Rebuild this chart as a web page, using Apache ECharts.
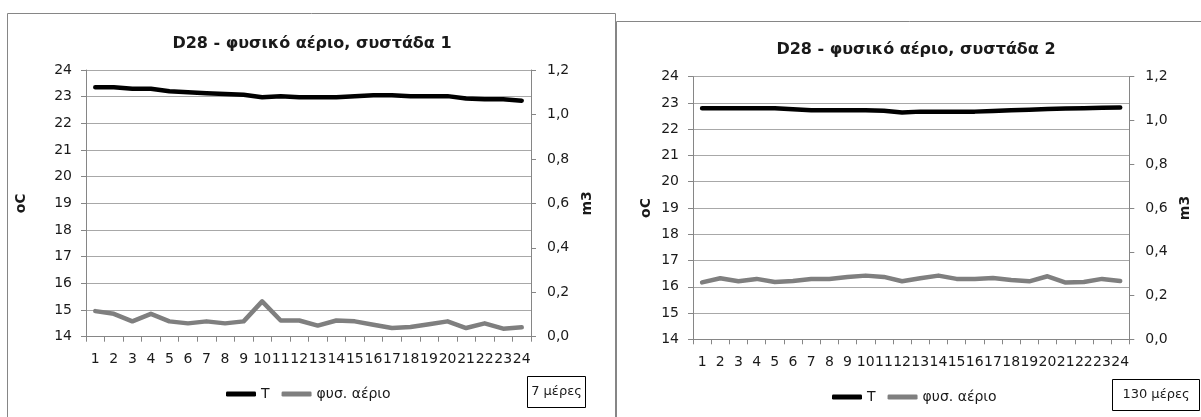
<!DOCTYPE html>
<html>
<head>
<meta charset="utf-8">
<script src="https://cdn.jsdelivr.net/npm/echarts@6/dist/echarts.min.js"></script>
<style>
html,body{margin:0;padding:0;background:#fff;}
#c{width:1201px;height:417px;}
</style>
</head>
<body>
<div id="c"></div>
<script>
// ---- data ----
var hours = ['1','2','3','4','5','6','7','8','9','10','11','12','13','14','15','16','17','18','19','20','21','22','23','24'];
var tempLeft = [23.35,23.35,23.3,23.3,23.2,23.17,23.13,23.1,23.07,22.98,23.02,22.98,22.98,22.98,23.02,23.05,23.05,23.02,23.02,23.02,22.93,22.9,22.9,22.85];
var gasLeft = [0.115,0.103,0.069,0.103,0.069,0.060,0.069,0.060,0.069,0.159,0.073,0.073,0.050,0.073,0.069,0.054,0.039,0.044,0.056,0.069,0.039,0.060,0.036,0.042];
var tempRight = [22.8,22.8,22.8,22.8,22.8,22.76,22.72,22.72,22.72,22.72,22.7,22.64,22.67,22.67,22.67,22.67,22.69,22.72,22.74,22.77,22.79,22.8,22.82,22.83];
var gasRight = [0.260,0.279,0.265,0.276,0.262,0.266,0.276,0.276,0.285,0.291,0.285,0.265,0.279,0.291,0.276,0.276,0.280,0.271,0.265,0.288,0.259,0.262,0.276,0.266];
var titles = ['D28 - φυσικό αέριο, συστάδα 1', 'D28 - φυσικό αέριο, συστάδα 2'];
var seriesNames = ['T', 'φυσ. αέριο'];
var durations = ['7 μέρες', '130 μέρες'];
var tempTicks = {min: 14, max: 24, interval: 1};
var gasTicks = {min: 0, max: 1.2, interval: 0.2};

var FONT = 'DejaVu Sans';
var TXT = '#1a1a1a';
var AXIS = '#868686';
var GRIDC = '#a8a8a8';

function xAxis(gi){
  return {
    type:'category', gridIndex:gi, data:hours, boundaryGap:true,
    axisLine:{show:true, lineStyle:{color:AXIS, width:1}},
    axisTick:{show:true, length:5, lineStyle:{color:AXIS}},
    axisLabel:{interval:0, color:TXT, fontFamily:FONT, fontSize:14, margin:16},
    splitLine:{show:false}
  };
}
function yLeft(gi, gap){
  return {
    type:'value', gridIndex:gi, min:tempTicks.min, max:tempTicks.max, interval:tempTicks.interval,
    name:'oC', nameLocation:'middle', nameRotate:90, nameGap:gap,
    nameTextStyle:{color:TXT, fontFamily:FONT, fontSize:14, fontWeight:'bold'},
    axisLine:{show:true, lineStyle:{color:AXIS}},
    axisTick:{show:true, length:5, lineStyle:{color:AXIS}},
    axisLabel:{color:TXT, fontFamily:FONT, fontSize:14, margin:14},
    splitLine:{show:true, lineStyle:{color:GRIDC, width:1}}
  };
}
function yRight(gi, gap){
  return {
    type:'value', gridIndex:gi, position:'right', min:gasTicks.min, max:gasTicks.max, interval:gasTicks.interval,
    name:'m3', nameLocation:'middle', nameRotate:90, nameGap:gap,
    nameTextStyle:{color:TXT, fontFamily:FONT, fontSize:14, fontWeight:'bold'},
    axisLine:{show:true, lineStyle:{color:AXIS}},
    axisTick:{show:true, length:5, lineStyle:{color:AXIS}},
    axisLabel:{color:TXT, fontFamily:FONT, fontSize:14, margin:16,
      formatter:function(v){return v.toFixed(1).replace('.', ',');}},
    splitLine:{show:false}
  };
}
function line(name, data, xi, yi, color){
  return {
    type:'line', name:name, data:data, xAxisIndex:xi, yAxisIndex:yi,
    showSymbol:false, symbol:'none', smooth:false,
    lineStyle:{color:color, width:4.5, cap:'round', join:'round'},
    itemStyle:{color:color}
  };
}
function boxText(text, x, y, w, h){
  return {
    type:'group', x:x, y:y,
    children:[
      {type:'rect', shape:{x:0, y:0, width:w, height:h}, style:{fill:'#fff', stroke:'#000', lineWidth:1}},
      {type:'text', x:w/2, y:h/2, style:{text:text, fill:TXT, font:'13px "'+FONT+'"', align:'center', verticalAlign:'middle'}}
    ]
  };
}

var chart = echarts.init(document.getElementById('c'), null, {renderer:'canvas'});
chart.setOption({
  animation:false,
  backgroundColor:'#fff',
  title:[
    {text:titles[0], left:307, top:31, textAlign:'center',
     textStyle:{color:TXT, fontFamily:FONT, fontSize:16, fontWeight:'bold'}},
    {text:titles[1], left:911, top:37, textAlign:'center',
     textStyle:{color:TXT, fontFamily:FONT, fontSize:16, fontWeight:'bold'}}
  ],
  legend:[
    {data:seriesNames, left:226, top:387, padding:0, itemGap:12, itemWidth:30, itemHeight:5, icon:'roundRect',
     textStyle:{color:TXT, fontFamily:FONT, fontSize:14}},
    {data:seriesNames, left:832, top:390, padding:0, itemGap:12, itemWidth:30, itemHeight:5, icon:'roundRect',
     textStyle:{color:TXT, fontFamily:FONT, fontSize:14}}
  ],
  grid:[
    {left:86, top:70, right:670, bottom:80.3},
    {left:693, top:76.7, right:71.7, bottom:77.7}
  ],
  xAxis:[xAxis(0), xAxis(1)],
  yAxis:[yLeft(0, 58), yRight(0, 49), yLeft(1, 40), yRight(1, 49)],
  series:[
    line(seriesNames[0], tempLeft, 0, 0, '#000000'),
    line(seriesNames[1], gasLeft, 0, 1, '#7f7f7f'),
    line(seriesNames[0], tempRight, 1, 2, '#000000'),
    line(seriesNames[1], gasRight, 1, 3, '#7f7f7f')
  ],
  graphic:[
    {type:'rect', silent:true, z:-10, shape:{x:7.5, y:13.5, width:608, height:420}, style:{fill:'none', stroke:AXIS, lineWidth:1}},
    {type:'rect', silent:true, z:-10, shape:{x:616.5, y:21.5, width:600, height:420}, style:{fill:'none', stroke:AXIS, lineWidth:1}},
    boxText(durations[0], 527.5, 376.5, 58, 31),
    boxText(durations[1], 1112.5, 379.5, 87, 31)
  ]
});
</script>
</body>
</html>
